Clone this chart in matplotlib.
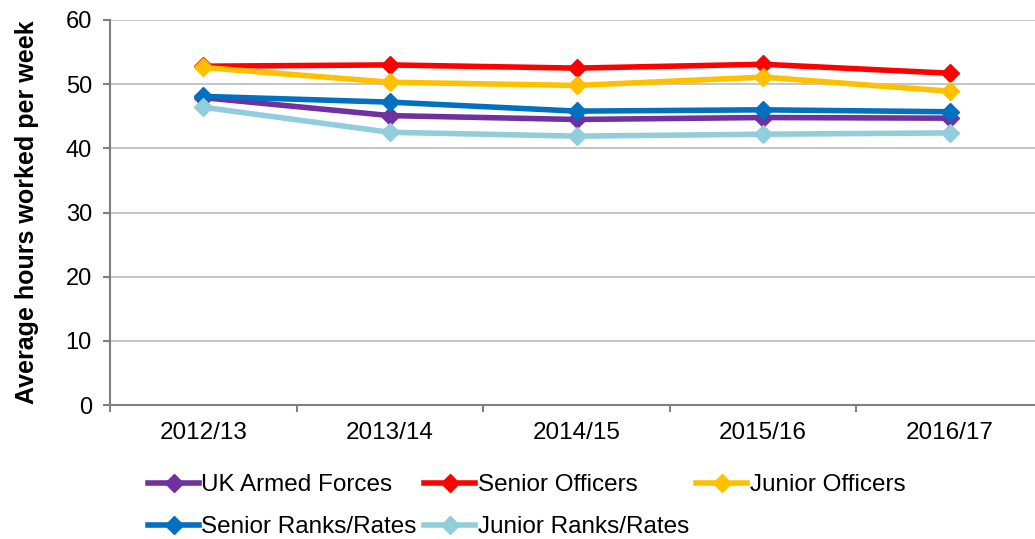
import matplotlib.pyplot as plt

plt.rcParams['font.family'] = ['Liberation Sans', 'DejaVu Sans']

years = ['2012/13', '2013/14', '2014/15', '2015/16', '2016/17']
uk_armed_forces = [47.9, 45.1, 44.5, 44.8, 44.7]
senior_officers = [52.8, 53.0, 52.5, 53.1, 51.7]
junior_officers = [52.6, 50.3, 49.8, 51.1, 48.9]
senior_ranks = [48.1, 47.2, 45.8, 46.0, 45.7]
junior_ranks = [46.4, 42.5, 41.9, 42.2, 42.4]

series = [
    ('UK Armed Forces', uk_armed_forces, '#7030a0'),
    ('Senior Officers', senior_officers, '#ff0000'),
    ('Junior Officers', junior_officers, '#ffc000'),
    ('Senior Ranks/Rates', senior_ranks, '#0070c0'),
    ('Junior Ranks/Rates', junior_ranks, '#92cddc'),
]

fig = plt.figure(figsize=(10.35, 5.39), dpi=100)
# axes run a bit past the right edge, as in the original screenshot
ax = fig.add_axes([0.1063, 0.2486, 0.9015, 0.7143])

x = range(len(years))
lines = []
for name, vals, col in series:
    ln, = ax.plot(x, vals, color=col, lw=4, marker='D', ms=9, label=name,
                  solid_joinstyle='round')
    lines.append(ln)

ax.set_xlim(-0.5, len(years) - 0.5)
ax.set_ylim(0, 60)
ax.set_yticks(range(0, 61, 10))
ax.set_xticks(x)
ax.set_xticklabels(years)
ax.set_xticks([i - 0.5 for i in range(len(years) + 1)], minor=True)
ax.tick_params(axis='x', which='major', length=0, pad=12, labelsize=17.5)
ax.tick_params(axis='x', which='minor', length=5, width=1.5, color='#808080', direction='out')
ax.tick_params(axis='y', length=5, width=1.5, color='#808080', labelsize=17, pad=8)
ax.grid(axis='y', color='#c0c0c0', lw=1.3)
ax.set_axisbelow(True)
for s in ['top', 'right']:
    ax.spines[s].set_visible(False)
for s in ['left', 'bottom']:
    ax.spines[s].set_color('#808080')
    ax.spines[s].set_linewidth(1.5)
ax.set_ylabel('Average hours worked per week', fontsize=18, fontweight='bold', labelpad=19)

# legend filled column-wise, so reorder to read row-wise
order = [0, 3, 1, 4, 2]
fig.legend([lines[i] for i in order], [series[i][0] for i in order],
           loc='lower left', bbox_to_anchor=(0.143, 0.001), ncol=3, frameon=False,
           fontsize=17.5, handlelength=2.1, handletextpad=0.1, columnspacing=0.3,
           labelspacing=0.84, borderpad=0, borderaxespad=0)

fig.savefig('out.png')
